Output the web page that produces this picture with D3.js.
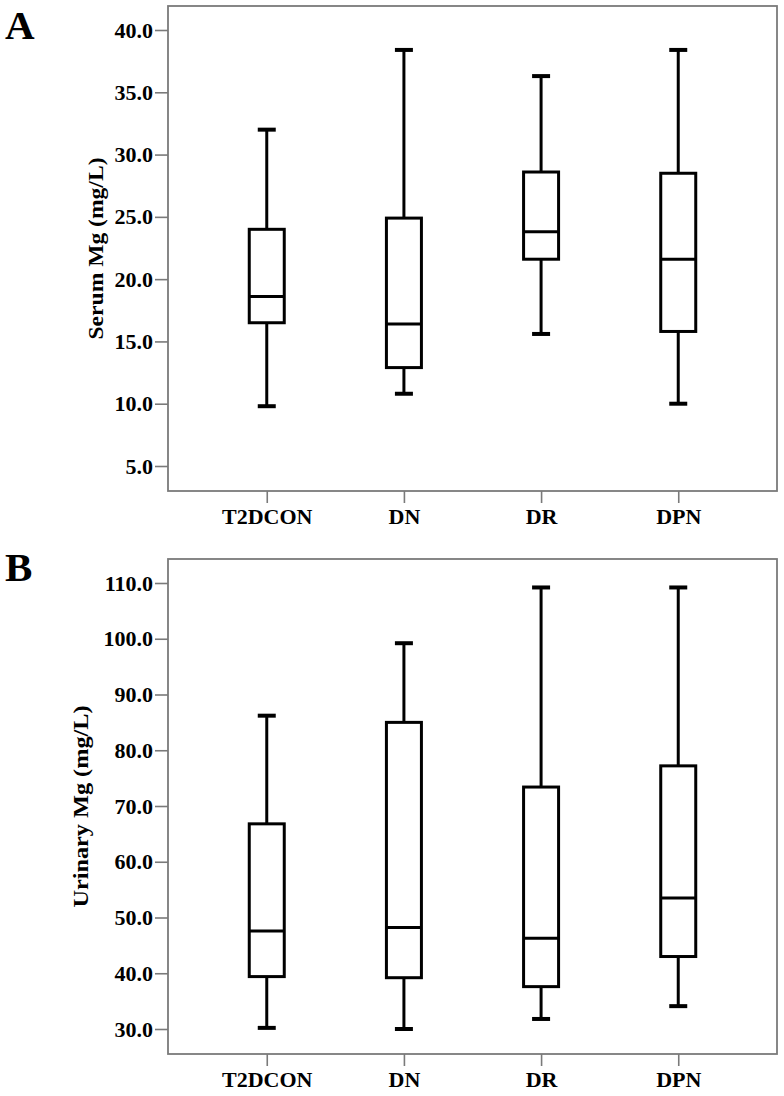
<!DOCTYPE html>
<html><head><meta charset="utf-8">
<script src="https://cdn.jsdelivr.net/npm/d3@7"></script>
<style>
body{margin:0;background:#fff}
svg text{font-family:"Liberation Serif","Times New Roman",serif;font-weight:bold;fill:#000}
</style>
</head><body>
<svg id="chart" width="784" height="1096"></svg>
<script>
// ---- data ----
const categories = ["T2DCON", "DN", "DR", "DPN"];

const serumLow    = [9.8, 10.8, 15.6, 10.0];
const serumQ1     = [16.5, 12.9, 21.6, 15.8];
const serumMedian = [18.6, 16.4, 23.8, 21.6];
const serumQ3     = [24.0, 24.9, 28.6, 28.5];
const serumHigh   = [32.0, 38.4, 36.3, 38.4];
const serumTicks  = [5, 10, 15, 20, 25, 30, 35, 40];

const urinaryLow    = [30.2, 30.0, 31.8, 34.1];
const urinaryQ1     = [39.4, 39.2, 37.6, 43.0];
const urinaryMedian = [47.6, 48.2, 46.3, 53.5];
const urinaryQ3     = [66.8, 85.0, 73.4, 77.2];
const urinaryHigh   = [86.2, 99.2, 109.2, 109.2];
const urinaryTicks  = [30, 40, 50, 60, 70, 80, 90, 100, 110];

const panels = [
  {letter: "A", title: "Serum Mg (mg/L)", titleLen: 182, titleX: 103,
   low: serumLow, q1: serumQ1, med: serumMedian, q3: serumQ3, high: serumHigh, ticks: serumTicks,
   top: 6, bottom: 491, domain: [5, 40], range: [466, 30], letterY: 39},
  {letter: "B", title: "Urinary Mg (mg/L)", titleLen: 202, titleX: 88,
   low: urinaryLow, q1: urinaryQ1, med: urinaryMedian, q3: urinaryQ3, high: urinaryHigh, ticks: urinaryTicks,
   top: 559, bottom: 1054, domain: [30, 110], range: [1029, 583], letterY: 581}
];

const svg = d3.select("#chart");
const left = 168, right = 777;
const boxW = 35, capW = 18;
const frameColor = "#7a7a7a";
const serif = '"Liberation Serif","Times New Roman",serif';

const x = d3.scalePoint().domain(categories).range([left, right]).padding(0.72);

panels.forEach(p => {
  const y = d3.scaleLinear().domain(p.domain).range(p.range);
  const g = svg.append("g");

  // y axis
  const ya = g.append("g").attr("transform", `translate(${left},0)`)
    .call(d3.axisLeft(y).tickValues(p.ticks).tickFormat(d3.format(".1f")).tickSize(13).tickPadding(2));
  ya.select(".domain").remove();
  ya.selectAll(".tick line").attr("stroke", frameColor).attr("stroke-width", 1.6);
  ya.selectAll(".tick text").attr("font-size", 22).attr("fill", "#000")
    .attr("font-family", serif).attr("font-weight", "bold");

  // x axis
  const xa = g.append("g").attr("transform", `translate(0,${p.bottom})`)
    .call(d3.axisBottom(x).tickSize(12).tickPadding(5));
  xa.select(".domain").remove();
  xa.selectAll(".tick line").attr("stroke", frameColor).attr("stroke-width", 1.6);
  xa.selectAll(".tick text").attr("font-size", 22).attr("fill", "#000")
    .attr("font-family", serif).attr("font-weight", "bold");

  // frame
  g.append("rect").attr("x", left).attr("y", p.top)
    .attr("width", right - left).attr("height", p.bottom - p.top)
    .attr("fill", "none").attr("stroke", frameColor).attr("stroke-width", 1.8);

  // boxes
  categories.forEach((c, i) => {
    const cx = x(c);
    const bg = g.append("g").attr("stroke", "#000").attr("fill", "none");
    bg.append("line").attr("x1", cx).attr("x2", cx).attr("y1", y(p.high[i])).attr("y2", y(p.q3[i])).attr("stroke-width", 3);
    bg.append("line").attr("x1", cx).attr("x2", cx).attr("y1", y(p.q1[i])).attr("y2", y(p.low[i])).attr("stroke-width", 3);
    bg.append("line").attr("x1", cx - capW / 2).attr("x2", cx + capW / 2).attr("y1", y(p.high[i])).attr("y2", y(p.high[i])).attr("stroke-width", 4);
    bg.append("line").attr("x1", cx - capW / 2).attr("x2", cx + capW / 2).attr("y1", y(p.low[i])).attr("y2", y(p.low[i])).attr("stroke-width", 4);
    bg.append("rect").attr("x", cx - boxW / 2).attr("width", boxW)
      .attr("y", y(p.q3[i])).attr("height", y(p.q1[i]) - y(p.q3[i]))
      .attr("fill", "#fff").attr("stroke-width", 3);
    bg.append("line").attr("x1", cx - boxW / 2).attr("x2", cx + boxW / 2).attr("y1", y(p.med[i])).attr("y2", y(p.med[i])).attr("stroke-width", 3);
  });

  // y title
  const cy = (p.top + p.bottom) / 2;
  g.append("text").attr("transform", `translate(${p.titleX},${cy}) rotate(-90)`)
    .attr("text-anchor", "middle").attr("font-size", 22)
    .attr("textLength", p.titleLen).attr("lengthAdjust", "spacingAndGlyphs")
    .text(p.title);

  // panel letter
  g.append("text").attr("x", 5).attr("y", p.letterY).attr("font-size", 41).text(p.letter);
});
</script>
</body></html>
